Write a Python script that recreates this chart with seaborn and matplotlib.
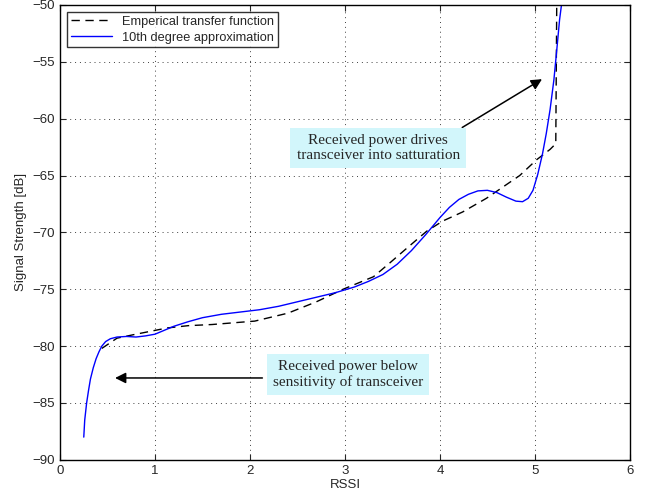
import pandas as pd
import numpy as np
import matplotlib
matplotlib.use('Agg')
import matplotlib.pyplot as plt
import seaborn as sns

# empirical transfer function (dashed)
emp_rssi = [0.44, 0.6, 0.77, 0.95, 1.13, 1.35, 1.6, 2.05, 2.4, 2.7, 2.98, 3.3, 3.47,
            3.65, 3.86, 4.03, 4.24, 4.49, 4.63, 4.84, 5.02, 5.16, 5.22, 5.23]
emp_db = [-80.2, -79.3, -79.0, -78.7, -78.4, -78.2, -78.1, -77.8, -77.1, -76.1, -75.0,
          -73.9, -72.7, -71.4, -69.9, -69.0, -68.2, -67.0, -66.2, -65.0, -63.6, -62.7,
          -62.2, -50.0]

# 10th degree approximation (solid blue)
fit_rssi = [0.25, 0.26, 0.28, 0.30, 0.32, 0.35, 0.38, 0.41, 0.44, 0.48, 0.53, 0.6,
            0.7, 0.8, 0.9, 1.0, 1.1, 1.2, 1.35, 1.5, 1.7, 1.9, 2.1, 2.3, 2.5, 2.7,
            2.9, 3.1, 3.25, 3.4, 3.55, 3.7, 3.85, 4.0, 4.1, 4.2, 4.3, 4.4, 4.5, 4.6,
            4.7, 4.8, 4.87, 4.93, 4.98, 5.03, 5.08, 5.12, 5.16, 5.2, 5.23, 5.26, 5.28]
fit_db = [-88.0, -86.5, -85.0, -83.9, -82.9, -81.9, -81.1, -80.5, -80.0, -79.6, -79.35,
          -79.2, -79.15, -79.2, -79.1, -78.95, -78.6, -78.25, -77.85, -77.5, -77.2,
          -77.0, -76.8, -76.5, -76.1, -75.7, -75.3, -74.8, -74.3, -73.7, -72.8, -71.6,
          -70.2, -68.7, -67.8, -67.1, -66.65, -66.35, -66.3, -66.5, -66.9, -67.25,
          -67.3, -67.0, -66.3, -64.9, -63.1, -61.3, -59.2, -56.6, -54.0, -51.3, -50.0]

emp = pd.DataFrame({'RSSI': emp_rssi, 'dB': emp_db})
fit = pd.DataFrame({'RSSI': fit_rssi, 'dB': fit_db})

sns.set_style('ticks')
plt.rcParams['font.family'] = ['Liberation Sans', 'DejaVu Sans']

fig = plt.figure(figsize=(6.49, 4.95), dpi=100)
ax = fig.add_axes([0.0925, 0.071, 0.878, 0.919])

sns.lineplot(data=emp, x='RSSI', y='dB', ax=ax, color='k', lw=1.0,
             sort=False, label='Emperical transfer function')
ax.lines[-1].set_dashes((6, 4))
sns.lineplot(data=fit, x='RSSI', y='dB', ax=ax, color='#0000ff', lw=1.0,
             sort=False, label='10th degree approximation')

ax.set_xlim(0, 6)
ax.set_ylim(-90, -50)
ax.set_xticks(range(0, 7))
ax.set_yticks(range(-90, -49, 5))
ax.grid(True, linestyle=(0, (1, 4)), color='0.25', lw=0.7)
ax.tick_params(direction='in', top=True, right=True, labelsize=9.5, length=4, width=0.8)
for s in ax.spines.values():
    s.set_linewidth(1.0)
    s.set_color('k')
ax.set_xlabel('RSSI', fontsize=9.5, labelpad=2)
ax.set_ylabel('Signal Strength [dB]', fontsize=9.5, labelpad=4)

leg = ax.legend(loc='upper left', fontsize=9.2, frameon=True, fancybox=False,
                borderaxespad=0.55, handlelength=3.2, borderpad=0.3, labelspacing=0.3)
leg.get_frame().set_edgecolor('k')
leg.get_frame().set_linewidth(1.0)
leg.get_lines()[0].set_dashes((6, 4))

# annotations
box = dict(boxstyle='square,pad=0.4', fc='#d2f6fb', ec='none')
ax.annotate('', xy=(5.1, -56.4), xytext=(4.21, -60.9),
            arrowprops=dict(arrowstyle='-|>', color='k', lw=1.1, mutation_scale=16))
ax.text(3.35, -62.6, 'Received power drives\ntransceiver into satturation',
        ha='center', va='center', fontsize=11, family='Liberation Serif',
        linespacing=1.2, bbox=box)
ax.annotate('', xy=(0.55, -82.8), xytext=(2.16, -82.8),
            arrowprops=dict(arrowstyle='-|>', color='k', lw=1.1, mutation_scale=16))
ax.text(3.03, -82.5, 'Received power below\nsensitivity of transceiver',
        ha='center', va='center', fontsize=11, family='Liberation Serif',
        linespacing=1.2, bbox=box)

plt.savefig('out.png', dpi=100)
